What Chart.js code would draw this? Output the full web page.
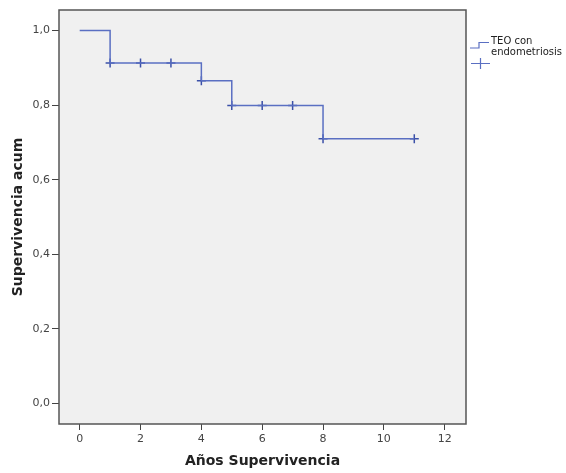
<!DOCTYPE html>
<html>
<head>
<meta charset="utf-8">
<script src="https://cdn.jsdelivr.net/npm/chart.js@4"></script>
<style>
  html, body { margin: 0; padding: 0; background: #fff; }
  #wrap { width: 566px; height: 473px; }
</style>
</head>
<body>
<div id="wrap"><canvas id="kmChart" width="566" height="473"></canvas></div>
<script>
// survival step curve (Kaplan-Meier)
const stepTimes = [0, 1, 4, 5, 8, 11];
const stepSurv = [1.0, 0.913, 0.865, 0.799, 0.710, 0.710];
// censored observations
const censorTimes = [1, 2, 3, 4, 5, 6, 7, 8, 11];
const censorSurv = [0.913, 0.913, 0.913, 0.865, 0.799, 0.799, 0.799, 0.710, 0.710];
const xTicks = [0, 2, 4, 6, 8, 10, 12];
const yTicks = [0, 0.2, 0.4, 0.6, 0.8, 1.0];
const legendLines = ['TEO con', 'endometriosis'];

const lineColor = '#5a6fc2';
const markColor = '#3b50a8';

const plotFrame = {
  id: 'plotFrame',
  beforeDraw(chart) {
    const { ctx, chartArea: a } = chart;
    ctx.save();
    ctx.fillStyle = '#f0f0f0';
    ctx.fillRect(a.left, a.top, a.right - a.left, a.bottom - a.top);
    ctx.restore();
  },
  afterDraw(chart) {
    const { ctx, chartArea: a } = chart;
    ctx.save();
    ctx.strokeStyle = '#555';
    ctx.lineWidth = 1.5;
    ctx.strokeRect(a.left, a.top, a.right - a.left, a.bottom - a.top);

    // legend on the right
    ctx.strokeStyle = lineColor;
    ctx.lineWidth = 1.2;
    ctx.beginPath();
    ctx.moveTo(470, 48);
    ctx.lineTo(479, 48);
    ctx.lineTo(479, 42.5);
    ctx.lineTo(489, 42.5);
    ctx.stroke();
    ctx.beginPath();
    ctx.moveTo(471, 63.5);
    ctx.lineTo(490, 63.5);
    ctx.moveTo(480.5, 58);
    ctx.lineTo(480.5, 69);
    ctx.stroke();
    ctx.fillStyle = '#222';
    ctx.font = '10px "DejaVu Sans"';
    ctx.textBaseline = 'middle';
    ctx.textAlign = 'left';
    legendLines.forEach((t, i) => ctx.fillText(t, 491, 41.5 + i * 10.5));
    ctx.restore();
  }
};

new Chart(document.getElementById('kmChart'), {
  type: 'scatter',
  data: {
    datasets: [{
      type: 'line',
      data: stepTimes.map((t, i) => ({ x: t, y: stepSurv[i] })),
      stepped: 'before',
      borderColor: lineColor,
      borderWidth: 1.5,
      pointRadius: 0,
      fill: false
    }, {
      data: censorTimes.map((t, i) => ({ x: t, y: censorSurv[i] })),
      pointStyle: 'cross',
      pointRadius: 4.5,
      borderColor: markColor,
      backgroundColor: markColor,
      pointBorderWidth: 1.5
    }]
  },
  options: {
    responsive: false,
    animation: false,
    layout: { padding: { top: 10, right: 100, left: 0, bottom: 0 } },
    plugins: { legend: { display: false }, tooltip: { enabled: false } },
    scales: {
      x: {
        type: 'linear',
        min: -0.68,
        max: 12.7,
        afterBuildTicks: s => { s.ticks = xTicks.map(v => ({ value: v })); },
        afterFit: s => { s.height = 49; },
        grid: { drawOnChartArea: false, tickLength: 6, color: '#444', tickWidth: 1 },
        border: { display: false },
        ticks: { color: '#444', padding: 3, font: { family: 'DejaVu Sans', size: 11 } },
        title: {
          display: true,
          text: 'Años Supervivencia',
          color: '#222',
          padding: { top: 0, bottom: 3 },
          font: { family: 'DejaVu Sans', size: 14, weight: 'bold' }
        }
      },
      y: {
        min: -0.055,
        max: 1.055,
        afterBuildTicks: s => { s.ticks = yTicks.map(v => ({ value: v })); },
        afterFit: s => { s.width = 59; },
        grid: { drawOnChartArea: false, tickLength: 7, color: '#444', tickWidth: 1 },
        border: { display: false },
        ticks: {
          color: '#444',
          padding: 2,
          font: { family: 'DejaVu Sans', size: 11 },
          callback: v => v.toFixed(1).replace('.', ',')
        },
        title: {
          display: true,
          text: 'Supervivencia acum',
          color: '#222',
          padding: { top: 10, bottom: 0 },
          font: { family: 'DejaVu Sans', size: 14, weight: 'bold' }
        }
      }
    }
  },
  plugins: [plotFrame]
});
</script>
</body>
</html>
